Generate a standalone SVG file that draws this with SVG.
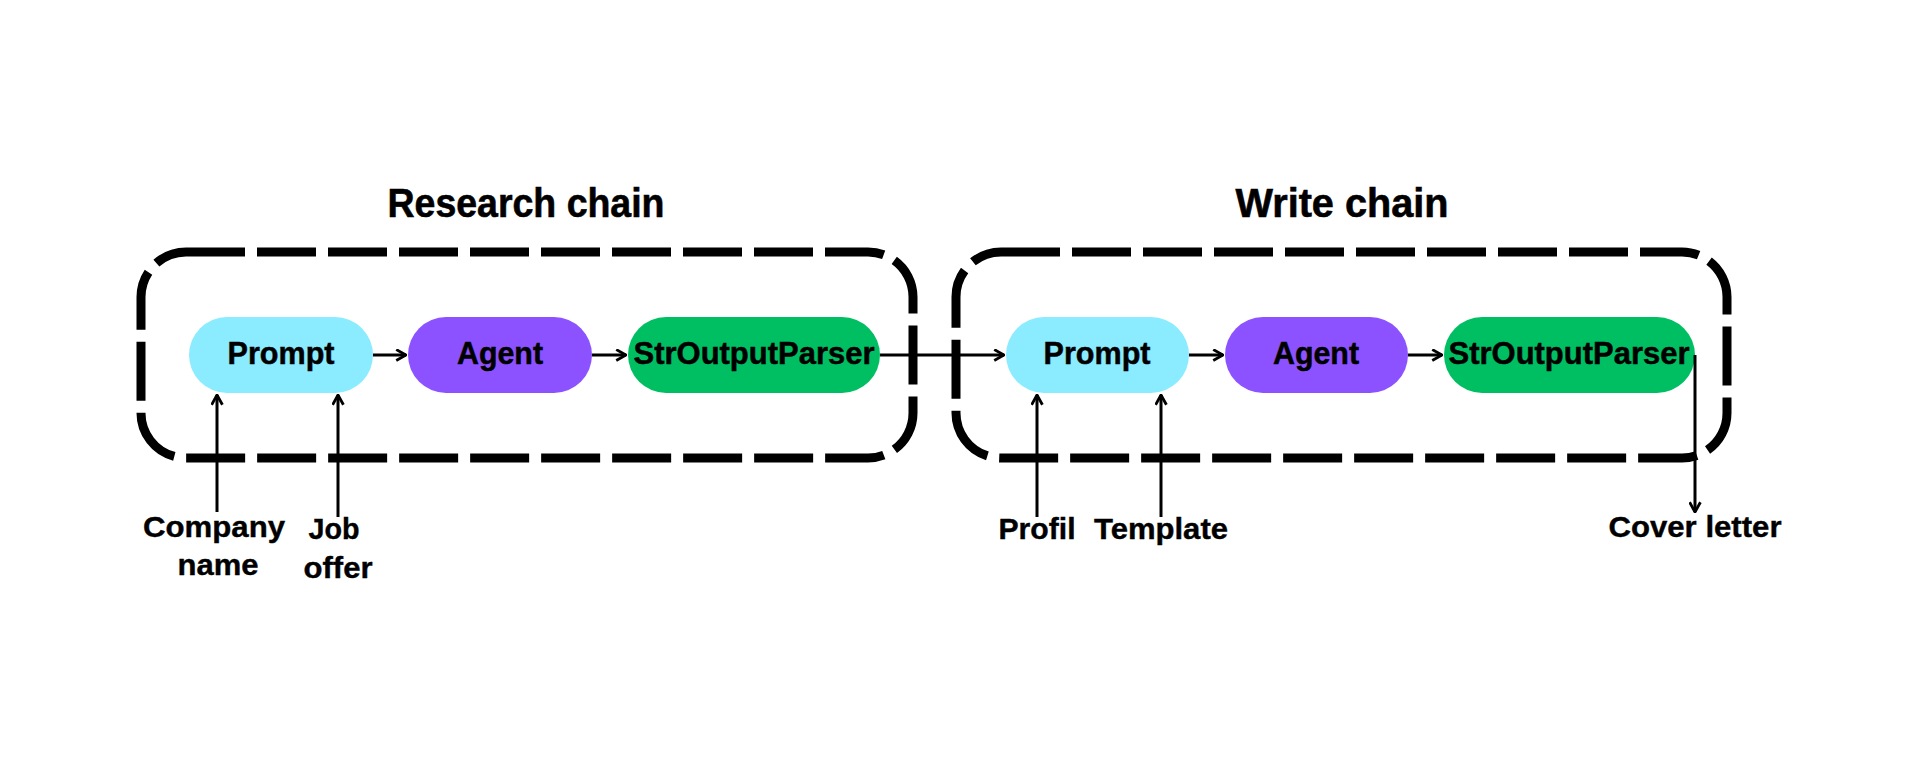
<svg xmlns="http://www.w3.org/2000/svg" width="1920" height="759" viewBox="0 0 1920 759">
<defs>
<style>
.chain{fill:none;stroke:#000;stroke-width:9;stroke-dasharray:59 12}
.title{font-family:"Liberation Sans",Arial,sans-serif;font-weight:bold;font-size:40px;fill:#000;stroke:#000;stroke-width:0.6;text-anchor:middle}
.node{font-family:"Liberation Sans",Arial,sans-serif;font-weight:bold;font-size:32px;fill:#000;stroke:#000;stroke-width:0.5;text-anchor:middle}
.lbl{font-family:"Liberation Sans",Arial,sans-serif;font-weight:bold;font-size:30px;fill:#000;stroke:#000;stroke-width:0.4;text-anchor:middle}
.conn{fill:none;stroke:#000;stroke-width:3}
</style>
<marker id="ah" viewBox="0 0 12 12" refX="11" refY="6" markerWidth="13" markerHeight="13" markerUnits="userSpaceOnUse" orient="auto">
<path d="M2,1 L11,6 L2,11" fill="none" stroke="#000" stroke-width="2.6"/>
</marker>
</defs>
<rect width="1920" height="759" fill="#fff"/>

<g id="research-chain">
<rect class="chain" x="141" y="252" width="772" height="206" rx="45"/>
<text class="title" x="526" y="217" textLength="277" lengthAdjust="spacingAndGlyphs">Research chain</text>
</g>
<g id="write-chain">
<rect class="chain" x="956" y="252" width="771" height="206" rx="45"/>
<text class="title" x="1342" y="217" textLength="213" lengthAdjust="spacingAndGlyphs">Write chain</text>
</g>

<g id="r-prompt">
<rect x="189" y="317" width="184" height="76" rx="38" fill="#8BEBFF"/>
<text class="node" x="281" y="364" textLength="107" lengthAdjust="spacingAndGlyphs">Prompt</text>
</g>
<g id="r-agent">
<rect x="408" y="317" width="184" height="76" rx="38" fill="#8C52FF"/>
<text class="node" x="500" y="364" textLength="86" lengthAdjust="spacingAndGlyphs">Agent</text>
</g>
<g id="r-parser">
<rect x="628" y="317" width="252" height="76" rx="38" fill="#00BF63"/>
<text class="node" x="754" y="364" textLength="241" lengthAdjust="spacingAndGlyphs">StrOutputParser</text>
</g>

<g id="w-prompt">
<rect x="1006" y="317" width="183" height="76" rx="38" fill="#8BEBFF"/>
<text class="node" x="1097" y="364" textLength="107" lengthAdjust="spacingAndGlyphs">Prompt</text>
</g>
<g id="w-agent">
<rect x="1225" y="317" width="183" height="76" rx="38" fill="#8C52FF"/>
<text class="node" x="1316" y="364" textLength="86" lengthAdjust="spacingAndGlyphs">Agent</text>
</g>
<g id="w-parser">
<rect x="1444" y="317" width="251" height="76" rx="38" fill="#00BF63"/>
<text class="node" x="1569" y="364" textLength="241" lengthAdjust="spacingAndGlyphs">StrOutputParser</text>
</g>

<g id="inputs">
<text class="lbl" x="214" y="537" textLength="142" lengthAdjust="spacingAndGlyphs">Company</text>
<text class="lbl" x="218" y="575" textLength="81" lengthAdjust="spacingAndGlyphs">name</text>
<text class="lbl" x="334" y="539" textLength="51" lengthAdjust="spacingAndGlyphs">Job</text>
<text class="lbl" x="338" y="578" textLength="69" lengthAdjust="spacingAndGlyphs">offer</text>
<text class="lbl" x="1037" y="539" textLength="77" lengthAdjust="spacingAndGlyphs">Profil</text>
<text class="lbl" x="1161" y="539" textLength="134" lengthAdjust="spacingAndGlyphs">Template</text>
<text class="lbl" x="1695" y="537" textLength="173" lengthAdjust="spacingAndGlyphs">Cover letter</text>
</g>

<g id="connectors">
<line class="conn" x1="373" y1="355" x2="406" y2="355" marker-end="url(#ah)"/>
<line class="conn" x1="592" y1="355" x2="626" y2="355" marker-end="url(#ah)"/>
<line class="conn" x1="880" y1="355" x2="1004" y2="355" marker-end="url(#ah)"/>
<line class="conn" x1="1189" y1="355" x2="1223" y2="355" marker-end="url(#ah)"/>
<line class="conn" x1="1408" y1="355" x2="1442" y2="355" marker-end="url(#ah)"/>
<line class="conn" x1="217" y1="512" x2="217" y2="395" marker-end="url(#ah)"/>
<line class="conn" x1="338" y1="517" x2="338" y2="395" marker-end="url(#ah)"/>
<line class="conn" x1="1037" y1="517" x2="1037" y2="395" marker-end="url(#ah)"/>
<line class="conn" x1="1161" y1="517" x2="1161" y2="395" marker-end="url(#ah)"/>
<line class="conn" x1="1695" y1="355" x2="1695" y2="512" marker-end="url(#ah)"/>
</g>
</svg>
